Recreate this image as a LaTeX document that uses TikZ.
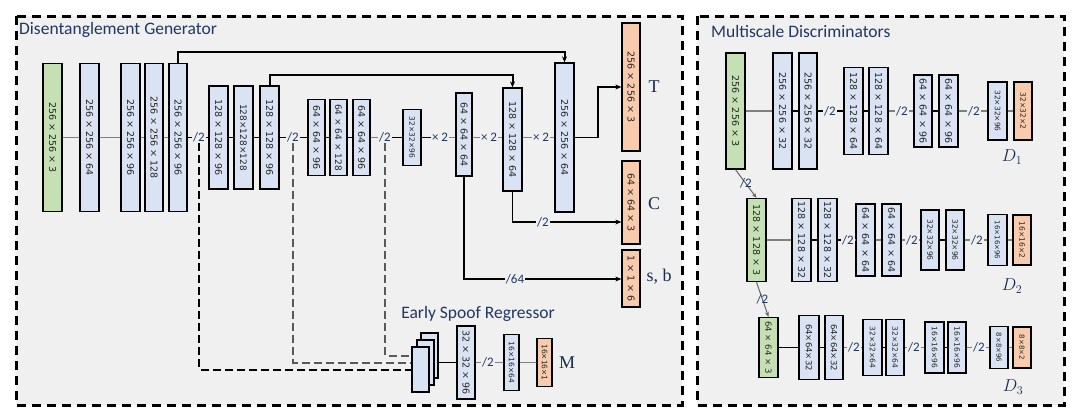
\documentclass[tikz,border=0pt]{standalone}
\usepackage{fontspec}
\usepackage{tikz}
\usetikzlibrary{arrows.meta}
\usetikzlibrary{calc}
\newfontfamily\boxfont{DejaVu Sans}
\newfontfamily\titlefont{Carlito}
\newfontfamily\namefont{Liberation Serif}
\definecolor{panelbg}{HTML}{F0F0F0}
\definecolor{featblue}{HTML}{DAE3F3}
\definecolor{imggreen}{HTML}{C5E0B4}
\definecolor{outorange}{HTML}{F8CBAD}
\definecolor{navy}{HTML}{1F3864}

\begin{document}
\begin{tikzpicture}[x=1pt,y=-1pt]
      \newcommand{\dims}[1]{\rotatebox{-90}{#1}}
      \tikzstyle{panel}=[draw=black,line width=3pt,dash pattern=on 9pt off 6pt,fill=panelbg]
      \tikzstyle{title}=[anchor=west,text=navy,inner sep=0pt,font=\titlefont\fontsize{17.5}{17.5}\selectfont]
      \tikzstyle{fmap}=[draw=black,line width=1.3pt,fill=featblue,inner sep=0pt,text=black!85,font=\boxfont\fontsize{9.5}{9.5}\selectfont]
      \tikzstyle{img}=[fmap,fill=imggreen]
      \tikzstyle{res}=[fmap,fill=outorange]
      \tikzstyle{lbl}=[fill=panelbg,inner sep=1pt,text=navy,font=\titlefont\fontsize{13}{13}\selectfont]
      \tikzstyle{outname}=[text=navy!80!black,inner sep=0pt,font=\namefont\fontsize{18}{18}\selectfont]
      \tikzstyle{link}=[draw=black!50,line width=1.6pt]
      \tikzstyle{linkb}=[draw=black,line width=1.2pt]
      \tikzstyle{skip}=[draw=black,line width=2pt,-{Stealth[length=6pt,width=5pt]}]
      \tikzstyle{outarrow}=[draw=black,line width=1.7pt,-{Stealth[length=6pt,width=5pt]}]
      \tikzstyle{early}=[draw=black,line width=2pt,dash pattern=on 8pt off 4pt]
      \tikzstyle{earlyg}=[early,draw=black!65]
      \tikzstyle{down}=[draw=black!60,line width=1pt,-{Stealth[length=5pt,width=4pt]}]
      \tikzset{sz/.style 2 args={minimum width=#1,minimum height=#2},
               fs/.style={font=\boxfont\fontsize{#1}{#1}\selectfont}}

      \useasboundingbox (0,0) rectangle (1085,416);
      \draw[panel] (16,16) rectangle (682,405);
      \draw[panel] (697,16) rectangle (1064,405);
      \node[title] (gentitle) at (19,30) {Disentanglement Generator};
      \node[title] (distitle) at (711,31) {Multiscale Discriminators};

      % generator, encoder
      \node[img,sz={19}{148}] (g0) at (52.5,137.5) {\dims{256 × 256 × 3}};
      \node[fmap,sz={19}{148}] (g1) at (89.5,137.5) {\dims{256 × 256 × 64}};
      \node[fmap,sz={19}{148}] (g2) at (130.5,137.5) {\dims{256 × 256 × 96}};
      \node[fmap,sz={18}{148}] (g3) at (154,137.5) {\dims{256 × 256 × 128}};
      \node[fmap,sz={18}{148}] (g4) at (178,137.5) {\dims{256 × 256 × 96}};
      \node[lbl] (p1) at (199,137.5) {/2};
      \node[fmap,sz={19}{103}] (g5) at (218.5,137.5) {\dims{128 × 128 × 96}};
      \node[fmap,sz={19}{103},fs=9] (g6) at (243.5,137.5) {\dims{128×128×128}};
      \node[fmap,sz={19}{103}] (g7) at (269.5,137.5) {\dims{128 × 128 × 96}};
      \node[lbl] (p2) at (293,137.5) {/2};
      \node[fmap,sz={17}{76}] (g8) at (316.5,137.5) {\dims{64 × 64 × 96}};
      \node[fmap,sz={17}{76},fs=9] (g9) at (338.5,137.5) {\dims{64 × 64 × 128}};
      \node[fmap,sz={17}{76}] (g10) at (361.5,137.5) {\dims{64 × 64 × 96}};
      \node[lbl] (p3) at (385,137.5) {/2};
      \node[fmap,sz={18}{56},fs=7.5] (g11) at (412,137.5) {\dims{32×32×96}};

      % generator, decoder
      \node[lbl] (m1) at (440,137.5) {× 2};
      \node[fmap,sz={16}{83}] (u1) at (464,134.5) {\dims{64 × 64 × 64}};
      \node[lbl] (m2) at (489,137.5) {× 2};
      \node[fmap,sz={19}{103}] (u2) at (512.5,139.5) {\dims{128 × 128 × 64}};
      \node[lbl] (m3) at (541,137.5) {× 2};
      \node[fmap,sz={19}{149}] (u3) at (564.5,137.5) {\dims{256 × 256 × 64}};

      \node[res,sz={18}{128}] (outT) at (631,87) {\dims{256 × 256 × 3}};
      \node[res,sz={18}{83}] (outC) at (631,202.5) {\dims{64 × 64 × 3}};
      \node[res,sz={18}{57}] (outSB) at (631,278.5) {\dims{1 × 1 × 6}};
      \node[outname] (nT) at (654,87) {T};
      \node[outname] (nC) at (654,204) {C};
      \node[outname] (nSB) at (659,277) {s, b};
      \node[lbl] (pc) at (543,222) {/2};
      \node[lbl] (psb) at (515,279) {/64};
      \coordinate (tbend) at (598,137.5);

      % early spoof regressor
      \node[fmap,sz={17}{45}] (card3) at (429.5,355.5) {};
      \node[fmap,sz={17}{45}] (card2) at (425.5,362.5) {};
      \node[fmap,sz={17}{45}] (card1) at (420.5,369.5) {};
      \node[fmap,sz={18}{73}] (r1) at (466,362.5) {\dims{32 × 32 × 96}};
      \node[lbl] (p4) at (488,362.5) {/2};
      \node[fmap,sz={15}{56},fs=7.5] (r2) at (511.5,362.5) {\dims{16×16×64}};
      \node[res,sz={15}{48},fs=7.5] (outM) at (544.5,362.5) {\dims{16×16×1}};
      \node[outname] (nM) at (567,362.5) {M};
      \node[title,anchor=center] (esrtitle) at (478,314) {Early Spoof Regressor};

      \draw[link] (g0) -- (g1);
      \draw[link] (g1) -- (g2);
      \draw[link] (g2) -- (g3);
      \draw[link] (g3) -- (g4);
      \draw[linkb] (g4) -- (p1);
      \draw[linkb] (p1) -- (g5);
      \draw[linkb] (g5) -- (g6);
      \draw[linkb] (g6) -- (g7);
      \draw[linkb] (g7) -- (p2);
      \draw[linkb] (p2) -- (g8);
      \draw[linkb] (g8) -- (g9);
      \draw[linkb] (g9) -- (g10);
      \draw[link] (g10) -- (p3);
      \draw[linkb] (p3) -- (g11);
      \draw[linkb] (g11) -- (m1);
      \draw[link] (m1) -- (m1 -| u1.west);
      \draw[link] (m2 -| u1.east) -- (m2);
      \draw[link] (m2) -- (m2 -| u2.west);
      \draw[link] (m3 -| u2.east) -- (m3);
      \draw[link] (m3) -- (m3 -| u3.west);

      \draw[skip] (g4.north) -- ++(0,-11) -| (u3.north);
      \draw[skip] (g7.north) -- ++(0,-10) -| (u2.north);
      \draw[outarrow] (u3.east |- tbend) -- (tbend) |- (outT.west);
      \draw[line width=1.7pt] (u2.south) |- (pc.west);
      \draw[outarrow] (pc.east) -- (outC.west |- pc.east);
      \draw[line width=2pt] (u1.south) |- (psb.west);
      \draw[outarrow] (psb.east) -- (outSB.west |- psb.east);

      \draw[early] (p1.south) |- (card1.west);
      \draw[earlyg] (p2.south) |- ([yshift=7pt]card1.west);
      \draw[earlyg] (p3.south) |- ([yshift=14pt]card1.west);
      \draw[linkb] (card3.east |- r1.west) -- (r1.west);
      \draw[link] (r1) -- (p4);
      \draw[link] (p4) -- (r2);
      \draw[link] (r2) -- (outM);

      % discriminator D1
      \node[img,sz={19}{116}] (d0) at (735.5,111) {\dims{256 × 256 × 3}};
      \node[fmap,sz={19}{116}] (d1) at (782.5,111) {\dims{256 × 256 × 32}};
      \node[fmap,sz={18}{116}] (d2) at (808,111) {\dims{256 × 256 × 32}};
      \node[lbl] (q1) at (830,111) {/2};
      \node[fmap,sz={19}{87}] (d3) at (853.5,111) {\dims{128 × 128 × 64}};
      \node[fmap,sz={19}{87}] (d4) at (878.5,111) {\dims{128 × 128 × 64}};
      \node[lbl] (q2) at (902,111) {/2};
      \node[fmap,sz={18}{72}] (d5) at (923,111) {\dims{64 × 64 × 96}};
      \node[fmap,sz={19}{72}] (d6) at (948.5,111) {\dims{64 × 64 × 96}};
      \node[lbl] (q3) at (974,111) {/2};
      \node[fmap,sz={19}{58},fs=7.5] (d7) at (997.5,111) {\dims{32×32×96}};
      \node[res,sz={18}{58},fs=7.5] (d8) at (1023,111) {\dims{32×32×2}};
      \node[outname,font=\fontsize{18}{18}\selectfont] (nD1) at (1012,157) {$D_1$};

      % discriminator D2
      \node[img,sz={19}{83}] (e0) at (756.5,240) {\dims{128 × 128 × 3}};
      \node[fmap,sz={19}{83}] (e1) at (801.5,240) {\dims{128 × 128 × 32}};
      \node[fmap,sz={19}{83}] (e2) at (827.5,240) {\dims{128 × 128 × 32}};
      \node[lbl] (q4) at (848,240) {/2};
      \node[fmap,sz={19}{72}] (e3) at (865.5,240) {\dims{64 × 64 × 64}};
      \node[fmap,sz={19}{72}] (e4) at (891.5,240) {\dims{64 × 64 × 64}};
      \node[lbl] (q5) at (912,240) {/2};
      \node[fmap,sz={18}{60},fs=7.5] (e5) at (930,240) {\dims{32×32×96}};
      \node[fmap,sz={18}{60},fs=7.5] (e6) at (955,240) {\dims{32×32×96}};
      \node[lbl] (q6) at (977,240) {/2};
      \node[fmap,sz={19}{51},fs=7] (e7) at (997.5,240) {\dims{16×16×96}};
      \node[res,sz={18}{50},fs=7.5] (e8) at (1022,240) {\dims{16×16×2}};
      \node[outname,font=\fontsize{18}{18}\selectfont] (nD2) at (1012,286) {$D_2$};

      % discriminator D3
      \node[img,sz={19}{60},fs=8.5] (f0) at (768.5,347.5) {\dims{64 × 64 × 3}};
      \node[fmap,sz={20}{64},fs=8.5] (f1) at (809,347.5) {\dims{64×64×32}};
      \node[fmap,sz={18}{64},fs=8.5] (f2) at (834,347.5) {\dims{64×64×32}};
      \node[lbl] (q7) at (854,347.5) {/2};
      \node[fmap,sz={19}{56},fs=7.5] (f3) at (872.5,347.5) {\dims{32×32×64}};
      \node[fmap,sz={18}{56},fs=7.5] (f4) at (895,347.5) {\dims{32×32×64}};
      \node[lbl] (q8) at (914,347.5) {/2};
      \node[fmap,sz={19}{51},fs=7.5] (f5) at (934.5,347.5) {\dims{16×16×96}};
      \node[fmap,sz={18}{51},fs=7.5] (f6) at (957,347.5) {\dims{16×16×96}};
      \node[lbl] (q9) at (979,347.5) {/2};
      \node[fmap,sz={18}{42},fs=7] (f7) at (999,347.5) {\dims{8×8×96}};
      \node[res,sz={18}{41},fs=7] (f8) at (1022,347.5) {\dims{8×8×2}};
      \node[outname,font=\fontsize{18}{18}\selectfont] (nD3) at (1013,387) {$D_3$};

      \draw[link] (d0) -- (d1);
      \draw[linkb] (d1) -- (d2);
      \draw[linkb] (d2) -- (q1);
      \draw[linkb] (q1) -- (d3);
      \draw[linkb] (d3) -- (d4);
      \draw[link] (d4) -- (q2);
      \draw[link] (q2) -- (d5);
      \draw[linkb] (d5) -- (d6);
      \draw[link] (d6) -- (q3);
      \draw[link] (q3) -- (d7);
      \draw[link] (d7) -- (d8);

      \draw[link] (e0) -- (e1);
      \draw[linkb] (e1) -- (e2);
      \draw[linkb] (e2) -- (q4);
      \draw[link] (q4) -- (e3);
      \draw[link] (e3) -- (e4);
      \draw[link] (e4) -- (q5);
      \draw[link] (q5) -- (e5);
      \draw[linkb] (e5) -- (e6);
      \draw[link] (e6) -- (q6);
      \draw[link] (q6) -- (e7);
      \draw[link] (e7) -- (e8);

      \draw[linkb] (f0) -- (f1);
      \draw[linkb] (f1) -- (f2);
      \draw[link] (f2) -- (q7);
      \draw[link] (q7) -- (f3);
      \draw[linkb] (f3) -- (f4);
      \draw[link] (f4) -- (q8);
      \draw[link] (q8) -- (f5);
      \draw[linkb] (f5) -- (f6);
      \draw[link] (f6) -- (q9);
      \draw[link] (q9) -- (f7);
      \draw[link] (f7) -- (f8);

      \draw[down] (d0.south) -- node[lbl,fill=none] {/2} (e0.north);
      \draw[down] (e0.south) -- node[lbl,fill=none] {/2} (f0.north);
    \end{tikzpicture}
\end{document}
